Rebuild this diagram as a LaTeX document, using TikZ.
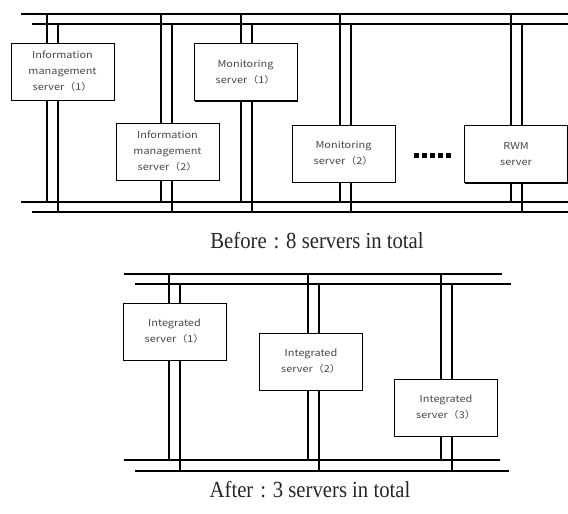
\documentclass[tikz,border=0pt]{standalone}
\usepackage{fontspec}
\setmainfont{Liberation Serif}
\newfontfamily\boxfont[FakeStretch=1.15]{Noto Sans CJK JP}
\newfontfamily\capfont[FakeStretch=0.9]{Liberation Serif}
\usetikzlibrary{shadows}

\tikzset{
  bus/.style={line width=2.8pt},
  subbus/.style={line width=2pt},
  tap/.style={line width=2pt},
  srv/.style={draw, fill=white, line width=0.9pt, minimum width=103pt, minimum height=57pt,
    align=center, text=black!72, font=\boxfont\fontsize{9.5}{16}\selectfont,
    drop shadow={shadow xshift=0.9pt, shadow yshift=-1pt, fill=black, opacity=1}},
  caption/.style={font=\capfont\fontsize{23}{25}\selectfont, text=black!85}
}

\begin{document}
\begin{tikzpicture}[x=1pt, y=-1pt]
        \useasboundingbox (0,0) rectangle (568,514);
        % before
        \draw[bus] (21,14) -- (568,14);
        \draw[subbus] (32,24) -- (568,24);
        \draw[bus] (21,202) -- (568,202);
        \draw[subbus] (32,212) -- (568,212);
        \foreach \x in {47,161,241,340,511} {
          \draw[tap] (\x,14) -- (\x,202);
          \draw[tap] (\x+11,24) -- (\x+11,212);
        }
        \node[srv] (info1) at (62.5,71.5) {Information\\management\\server（1）};
        \node[srv] (info2) at (167.5,151.5) {Information\\management\\server（2）};
        \node[srv] (mon1) at (245.5,72) {Monitoring\\server（1）};
        \node[srv] (mon2) at (343.5,153.5) {Monitoring\\server（2）};
        \node[srv] (rwm) at (516,154) {RWM\\server};
        \foreach \i in {0,...,4}
          \fill (414+\i*8,153) rectangle ++(4.5,4.5);
        \node[caption] (before) at (317,241) {Before\hspace{0.3em}:\hspace{0.3em}8 servers in total};
        % after
        \draw[bus] (124,274) -- (502,274);
        \draw[subbus] (135,284) -- (511,284);
        \draw[bus] (124,460) -- (500,460);
        \draw[subbus] (135,471) -- (509,471);
        \foreach \x in {169,308,441} {
          \draw[tap] (\x,274) -- (\x,460);
          \draw[tap] (\x+11,284) -- (\x+11,471);
        }
        \node[srv] (int1) at (174.5,331.5) {Integrated\\server（1）};
        \node[srv] (int2) at (311,361.5) {Integrated\\server（2）};
        \node[srv] (int3) at (446,407.5) {Integrated\\server（3）};
        \node[caption] (after) at (310,490) {After\hspace{0.3em}:\hspace{0.3em}3 servers in total};
\end{tikzpicture}
\end{document}
